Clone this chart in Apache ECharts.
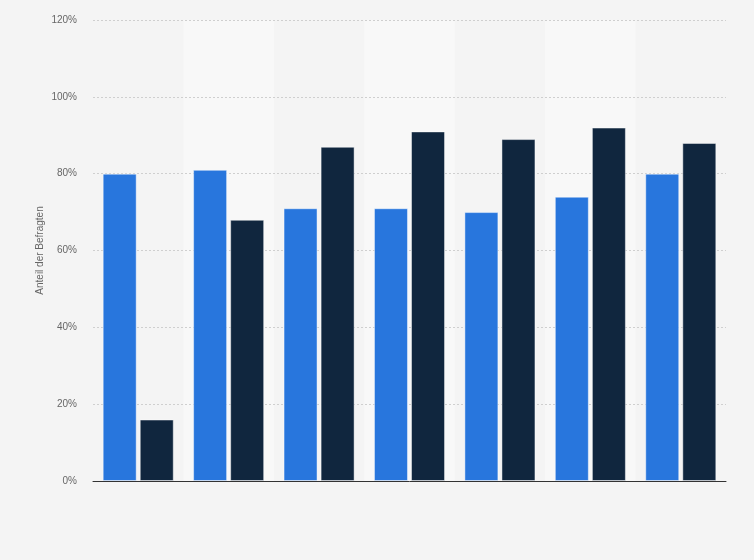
<!DOCTYPE html>
<html>
<head>
<meta charset="utf-8">
<script src="https://cdn.jsdelivr.net/npm/echarts@6/dist/echarts.min.js"></script>
<style>
html,body{margin:0;padding:0;background:#f4f4f4;}
#chart{width:754px;height:560px;}
</style>
</head>
<body>
<div id="chart"></div>
<script>
const categories = ['1', '2', '3', '4', '5', '6', '7'];
const seriesA = [80, 81, 71, 71, 70, 74, 80];
const seriesB = [16, 68, 87, 91, 89, 92, 88];
const yTicks = [0, 20, 40, 60, 80, 100, 120];

const chart = echarts.init(document.getElementById('chart'));
chart.setOption({
  backgroundColor: '#f4f4f4',
  animation: false,
  grid: { left: 93, right: 28, top: 20, bottom: 79 },
  xAxis: {
    type: 'category',
    data: categories,
    z: 0,
    axisLine: { lineStyle: { color: '#333', width: 1 } },
    axisTick: { show: false },
    axisLabel: { show: false },
    splitArea: { show: true, areaStyle: { color: ['rgba(0,0,0,0)', '#f8f8f8'] } }
  },
  yAxis: {
    type: 'value',
    z: 1,
    min: yTicks[0],
    max: yTicks[yTicks.length - 1],
    interval: 20,
    name: 'Anteil der Befragten',
    nameLocation: 'middle',
    nameGap: 48,
    nameMoveOverlap: false,
    nameTextStyle: { color: '#666', fontSize: 10, fontFamily: 'Arial, Liberation Sans, sans-serif' },
    axisLine: { show: false },
    axisTick: { show: false },
    axisLabel: { formatter: '{value}%', color: '#666', fontSize: 10, margin: 16, fontFamily: 'Arial, Liberation Sans, sans-serif' },
    splitLine: { showMinLine: false, lineStyle: { color: '#cfcfcf', type: [2, 2], width: 1 } }
  },
  series: [
    {
      type: 'bar', data: seriesA, barWidth: 34, barGap: '9%', z: 3,
      itemStyle: { color: '#2876dd', borderColor: 'rgba(255,255,255,0.45)', borderWidth: 1 }
    },
    {
      type: 'bar', data: seriesB, barWidth: 34, z: 3,
      itemStyle: { color: '#10263e', borderColor: 'rgba(255,255,255,0.45)', borderWidth: 1 }
    }
  ]
});
</script>
</body>
</html>
